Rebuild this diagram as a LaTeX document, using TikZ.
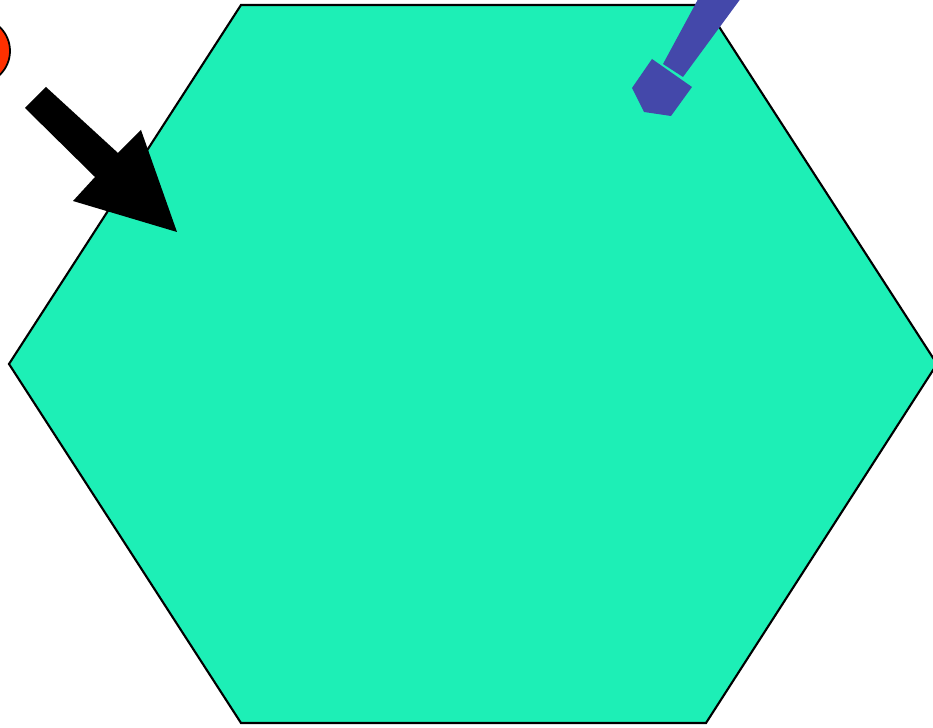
\documentclass[tikz,border=0pt]{standalone}
\usepackage{xcolor}
\usepackage{tikz}
\definecolor{clrHex}{RGB}{29,239,182}
\definecolor{clrDot}{RGB}{255,48,0}
\definecolor{clrPen}{RGB}{68,72,170}
\tikzset{
  hexface/.style={fill=clrHex,draw=black,line width=0.6pt,line join=miter},
  pointer/.style={fill=black,draw=none},
  penpart/.style={fill=clrPen,draw=none},
  marker/.style={fill=clrDot,draw=black,line width=0.5pt}
}

\begin{document}
\begin{tikzpicture}[x=0.01cm,y=-0.01cm]
  \useasboundingbox (0,0) rectangle (933,728);

  % --- hexagon ---
  \coordinate (hTL) at (241,5);   \coordinate (hTR) at (705,5);
  \coordinate (hR)  at (937,364); \coordinate (hBR) at (706,723);
  \coordinate (hBL) at (241,723); \coordinate (hL)  at (9,364);
  \draw[hexface] (hTL) -- (hTR) -- (hR) -- (hBR) -- (hBL) -- (hL) -- cycle;

  % --- red dot, cut by the left border ---
  \draw[marker] (-23,51) circle (33);

  % --- black arrow ---
  \fill[pointer] (25,108) -- (46,87) -- (118,153) -- (141,130)
     -- (177,232) -- (73,201) -- (95,177) -- cycle;

  % --- blue pen ---
  \fill[penpart] (703,-10) -- (747,-10) -- (683,77) -- (663,64) -- cycle;
  \fill[penpart] (652,59) -- (692,87) -- (671,116) -- (644,112) -- (632,88) -- cycle;
\end{tikzpicture}
\end{document}
